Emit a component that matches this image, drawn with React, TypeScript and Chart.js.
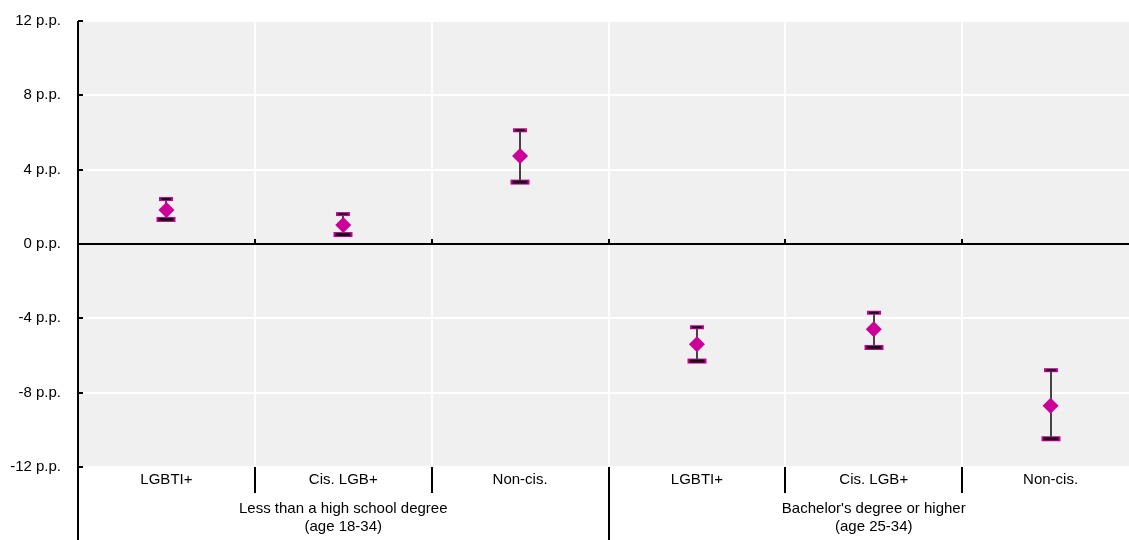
import React, { useEffect, useRef } from "react";
import { Chart, registerables } from "chart.js";

Chart.register(...registerables);

const categories = ["LGBTI+", "Cis. LGB+", "Non-cis.", "LGBTI+", "Cis. LGB+", "Non-cis."];
const groupLabels = [
  ["Less than a high school degree", "(age 18-34)"],
  ["Bachelor's degree or higher", "(age 25-34)"],
];
const groupSizes = [3, 3];
const estimates = [1.83, 1.02, 4.73, -5.39, -4.59, -8.71];
const upperBounds = [2.42, 1.61, 6.12, -4.48, -3.7, -6.79];
const lowerBounds = [1.32, 0.51, 3.33, -6.3, -5.57, -10.48];
const yTicks = [-12, -8, -4, 0, 4, 8, 12];

const MAGENTA = "#CC0099";
const FONT = "'Liberation Sans', Arial, sans-serif";

const customPlugin = {
  id: "custom",
  beforeDraw(chart: any) {
    const { ctx, chartArea } = chart;
    ctx.save();
    ctx.fillStyle = "#f0f0f0";
    ctx.fillRect(chartArea.left, chartArea.top, chartArea.right - chartArea.left, chartArea.bottom - chartArea.top);
    ctx.restore();
  },
  beforeDatasetsDraw(chart: any) {
    const { ctx, chartArea } = chart;
    const x = chart.scales.x;
    const y = chart.scales.y;
    const step = x.getPixelForValue(1) - x.getPixelForValue(0);
    const zeroY = Math.round(y.getPixelForValue(0));
    ctx.save();
    // zero line
    ctx.strokeStyle = "#000";
    ctx.lineWidth = 2;
    ctx.beginPath();
    ctx.moveTo(chartArea.left, zeroY);
    ctx.lineTo(chartArea.right, zeroY);
    ctx.stroke();
    // small ticks on zero line at boundaries
    for (let i = 1; i < categories.length; i++) {
      const bx = Math.round(x.getPixelForValue(i) - step / 2);
      ctx.beginPath();
      ctx.moveTo(bx, zeroY - 5);
      ctx.lineTo(bx, zeroY);
      ctx.stroke();
    }
    // left axis line extended to bottom
    const lx = chartArea.left;
    ctx.beginPath();
    ctx.moveTo(lx, chartArea.top);
    ctx.lineTo(lx, chart.height);
    ctx.stroke();
    // inside y ticks
    yTicks.forEach((v) => {
      const py = Math.round(y.getPixelForValue(v));
      ctx.beginPath();
      ctx.moveTo(lx, py);
      ctx.lineTo(lx + 5, py);
      ctx.stroke();
    });
    // category dividers below axis
    let idx = 0;
    const groupBoundaries: number[] = [0];
    groupSizes.forEach((s) => {
      idx += s;
      groupBoundaries.push(idx);
    });
    for (let i = 1; i < categories.length; i++) {
      const bx = Math.round(x.getPixelForValue(i) - step / 2);
      const isGroup = groupBoundaries.includes(i);
      ctx.beginPath();
      ctx.moveTo(bx, chartArea.bottom);
      ctx.lineTo(bx, isGroup ? chart.height : chartArea.bottom + 26);
      ctx.stroke();
    }
    // group labels
    ctx.fillStyle = "#000";
    ctx.font = `15px ${FONT}`;
    ctx.textAlign = "center";
    ctx.textBaseline = "middle";
    for (let g = 0; g < groupSizes.length; g++) {
      const a = groupBoundaries[g];
      const b = groupBoundaries[g + 1];
      const cx = (x.getPixelForValue(a) + x.getPixelForValue(b - 1)) / 2;
      groupLabels[g].forEach((line, li) => {
        ctx.fillText(line, cx, chartArea.bottom + 42 + li * 18);
      });
    }
    // error bars
    for (let i = 0; i < estimates.length; i++) {
      const px = Math.round(x.getPixelForValue(i));
      const uy = y.getPixelForValue(upperBounds[i]);
      const ly = y.getPixelForValue(lowerBounds[i]);
      ctx.strokeStyle = "#444";
      ctx.lineWidth = 2;
      ctx.beginPath();
      ctx.moveTo(px, uy);
      ctx.lineTo(px, ly);
      ctx.stroke();
      // upper cap
      ctx.fillStyle = MAGENTA;
      ctx.fillRect(px - 7, uy - 2, 14, 4);
      ctx.fillStyle = "#111";
      ctx.fillRect(px - 5, uy - 1, 10, 2);
      // lower cap
      ctx.fillStyle = MAGENTA;
      ctx.fillRect(px - 9.5, ly - 2.5, 19, 5);
      ctx.fillStyle = "#111";
      ctx.fillRect(px - 7.5, ly - 1.5, 15, 3);
    }
    ctx.restore();
  },
};

export default function App() {
  const ref = useRef<HTMLCanvasElement | null>(null);
  useEffect(() => {
    if (!ref.current) return;
    const chart = new Chart(ref.current, {
      type: "line",
      data: {
        labels: categories,
        datasets: [
          {
            data: estimates,
            showLine: false,
            pointStyle: "rectRot",
            pointRadius: 8,
            pointHoverRadius: 8,
            backgroundColor: MAGENTA,
            borderColor: MAGENTA,
            borderWidth: 0,
          },
        ],
      },
      options: {
        responsive: false,
        animation: false,
        layout: { autoPadding: false, padding: { top: 21, left: 0, right: 0, bottom: 0 } },
        plugins: { legend: { display: false }, tooltip: { enabled: false } },
        scales: {
          x: {
            type: "category",
            offset: true,
            grid: { offset: true, color: "#ffffff", lineWidth: 2, drawTicks: false },
            border: { display: false },
            ticks: { color: "#000", font: { size: 15, family: FONT }, padding: 4, maxRotation: 0, autoSkip: false },
            afterFit: (s: any) => {
              s.height = 73;
              s.paddingLeft = 0;
              s.paddingRight = 0;
            },
          },
          y: {
            min: -12,
            max: 12,
            afterBuildTicks: (s: any) => {
              s.ticks = yTicks.map((v) => ({ value: v }));
            },
            grid: { color: "#ffffff", lineWidth: 2, drawTicks: false },
            border: { display: false },
            ticks: {
              color: "#000",
              font: { size: 15, family: FONT },
              padding: 17,
              callback: (v: any) => `${v} p.p.`,
            },
            afterFit: (s: any) => {
              s.width = 78;
              s.paddingTop = 0;
              s.paddingBottom = 0;
            },
          },
        },
      },
      plugins: [customPlugin],
    });
    return () => chart.destroy();
  }, []);
  return (
    <div style={{ position: "fixed", left: 0, top: 0, width: 1129, height: 540, overflow: "hidden", background: "#fff" }}>
      <canvas ref={ref} width={1139} height={540} style={{ width: 1139, height: 540, display: "block" }} />
    </div>
  );
}
